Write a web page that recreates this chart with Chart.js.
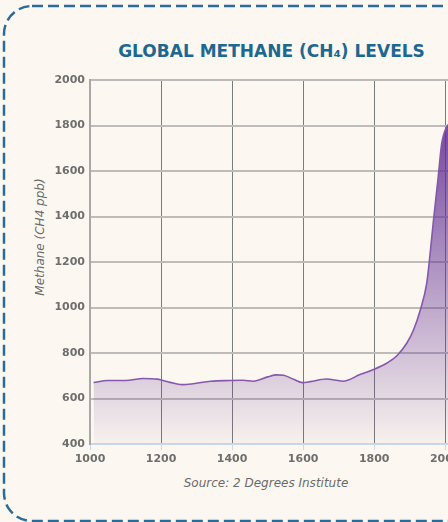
<!DOCTYPE html>
<html>
<head>
<meta charset="utf-8">
<script src="https://cdn.jsdelivr.net/npm/chart.js@4"></script>
<style>
  html, body { margin: 0; padding: 0; background: #fcf8f1; }
  #page { position: relative; width: 448px; height: 522px; overflow: hidden; background: #fcf8f1; }
  #chartBox { position: absolute; left: 0; top: 0; }
  #frame { position: absolute; left: 0; top: 0; }
  .title { position: absolute; left: 0; width: 543px; top: 41px; text-align: center;
    font: bold 17px "DejaVu Sans", sans-serif; color: #1d6891; }
  .source { position: absolute; left: 0; width: 532px; top: 476px; text-align: center;
    font: oblique 12px "DejaVu Sans", sans-serif; color: #6b6b6b; }
  .ytitle { position: absolute; left: 40px; top: 237px; transform: translate(-50%, -50%) rotate(-90deg);
    white-space: nowrap; font: oblique 12px "DejaVu Sans", sans-serif; color: #6b6b6b; }
</style>
</head>
<body>
<div id="page">
  <svg id="frame" width="448" height="522">
    <rect x="4" y="6" width="700" height="515" rx="28" ry="28" fill="none"
      stroke="#2a6b97" stroke-width="2.5" stroke-dasharray="11 5"/>
  </svg>
  <div class="title">GLOBAL METHANE (CH₄) LEVELS</div>
  <div class="ytitle">Methane (CH4 ppb)</div>
  <div class="source">Source: 2 Degrees Institute</div>
  <canvas id="chartBox" width="480" height="522"></canvas>
</div>
<script>
// methane concentration, ppb
const years = [1010, 1050, 1100, 1150, 1190, 1225, 1260, 1290, 1340, 1395, 1430, 1460,
  1500, 1525, 1545, 1575, 1598, 1620, 1665, 1712, 1760, 1798, 1836, 1864, 1892, 1911,
  1930, 1948, 1955, 1967, 1980, 1990, 2004, 2012, 2020];
const methane = [670, 679, 679, 688, 685, 671, 661, 665, 676, 679, 680, 676,
  695, 704, 702, 683, 670, 674, 686, 676, 705, 727, 756, 788, 844, 902,
  990, 1107, 1200, 1384, 1570, 1720, 1795, 1810, 1850];

const yTicks = [400, 600, 800, 1000, 1200, 1400, 1600, 1800, 2000];
const xTicks = [1000, 1200, 1400, 1600, 1800, 2000];

const points = years.map((y, i) => ({ x: y, y: methane[i] }));

function fillGradient(ctx) {
  const area = ctx.chart.chartArea;
  if (!area) return 'rgba(100,50,150,0.3)';
  const g = ctx.chart.ctx.createLinearGradient(0, area.top, 0, area.bottom);
  g.addColorStop(0, 'rgba(98,48,148,1)');
  g.addColorStop(1, 'rgba(98,48,148,0.03)');
  return g;
}

const tickFont = { family: 'DejaVu Sans', size: 11, weight: 'bold' };

new Chart(document.getElementById('chartBox'), {
  type: 'line',
  data: {
    datasets: [{
      data: points,
      borderColor: '#8757ab',
      borderWidth: 1.6,
      backgroundColor: fillGradient,
      fill: 'start',
      pointRadius: 0,
      cubicInterpolationMode: 'monotone'
    }]
  },
  options: {
    responsive: false,
    animation: false,
    layout: { padding: { left: 0, top: 80, right: 17, bottom: 48 } },
    plugins: { legend: { display: false }, tooltip: { enabled: false } },
    scales: {
      x: {
        type: 'linear',
        min: 1000,
        max: 2050,
        afterBuildTicks: s => { s.ticks = xTicks.map(v => ({ value: v })); },
        afterFit: s => { s.height = 30; },
        ticks: { font: tickFont, color: '#6e6e6e', padding: 3, callback: v => String(v) },
        grid: { color: '#7b7b7b', lineWidth: 1, tickColor: '#c9d8ea', tickLength: 6 },
        border: { color: '#c9d8ea', width: 2 }
      },
      y: {
        min: 400,
        max: 2000,
        afterBuildTicks: s => { s.ticks = yTicks.map(v => ({ value: v })); },
        afterFit: s => { s.width = 90; },
        ticks: { font: tickFont, color: '#6e6e6e', padding: 5, callback: v => String(v) },
        grid: { color: '#bdbcb8', lineWidth: 2, drawTicks: false },
        border: { color: '#a8a8a8', width: 2 }
      }
    }
  }
});
</script>
</body>
</html>
